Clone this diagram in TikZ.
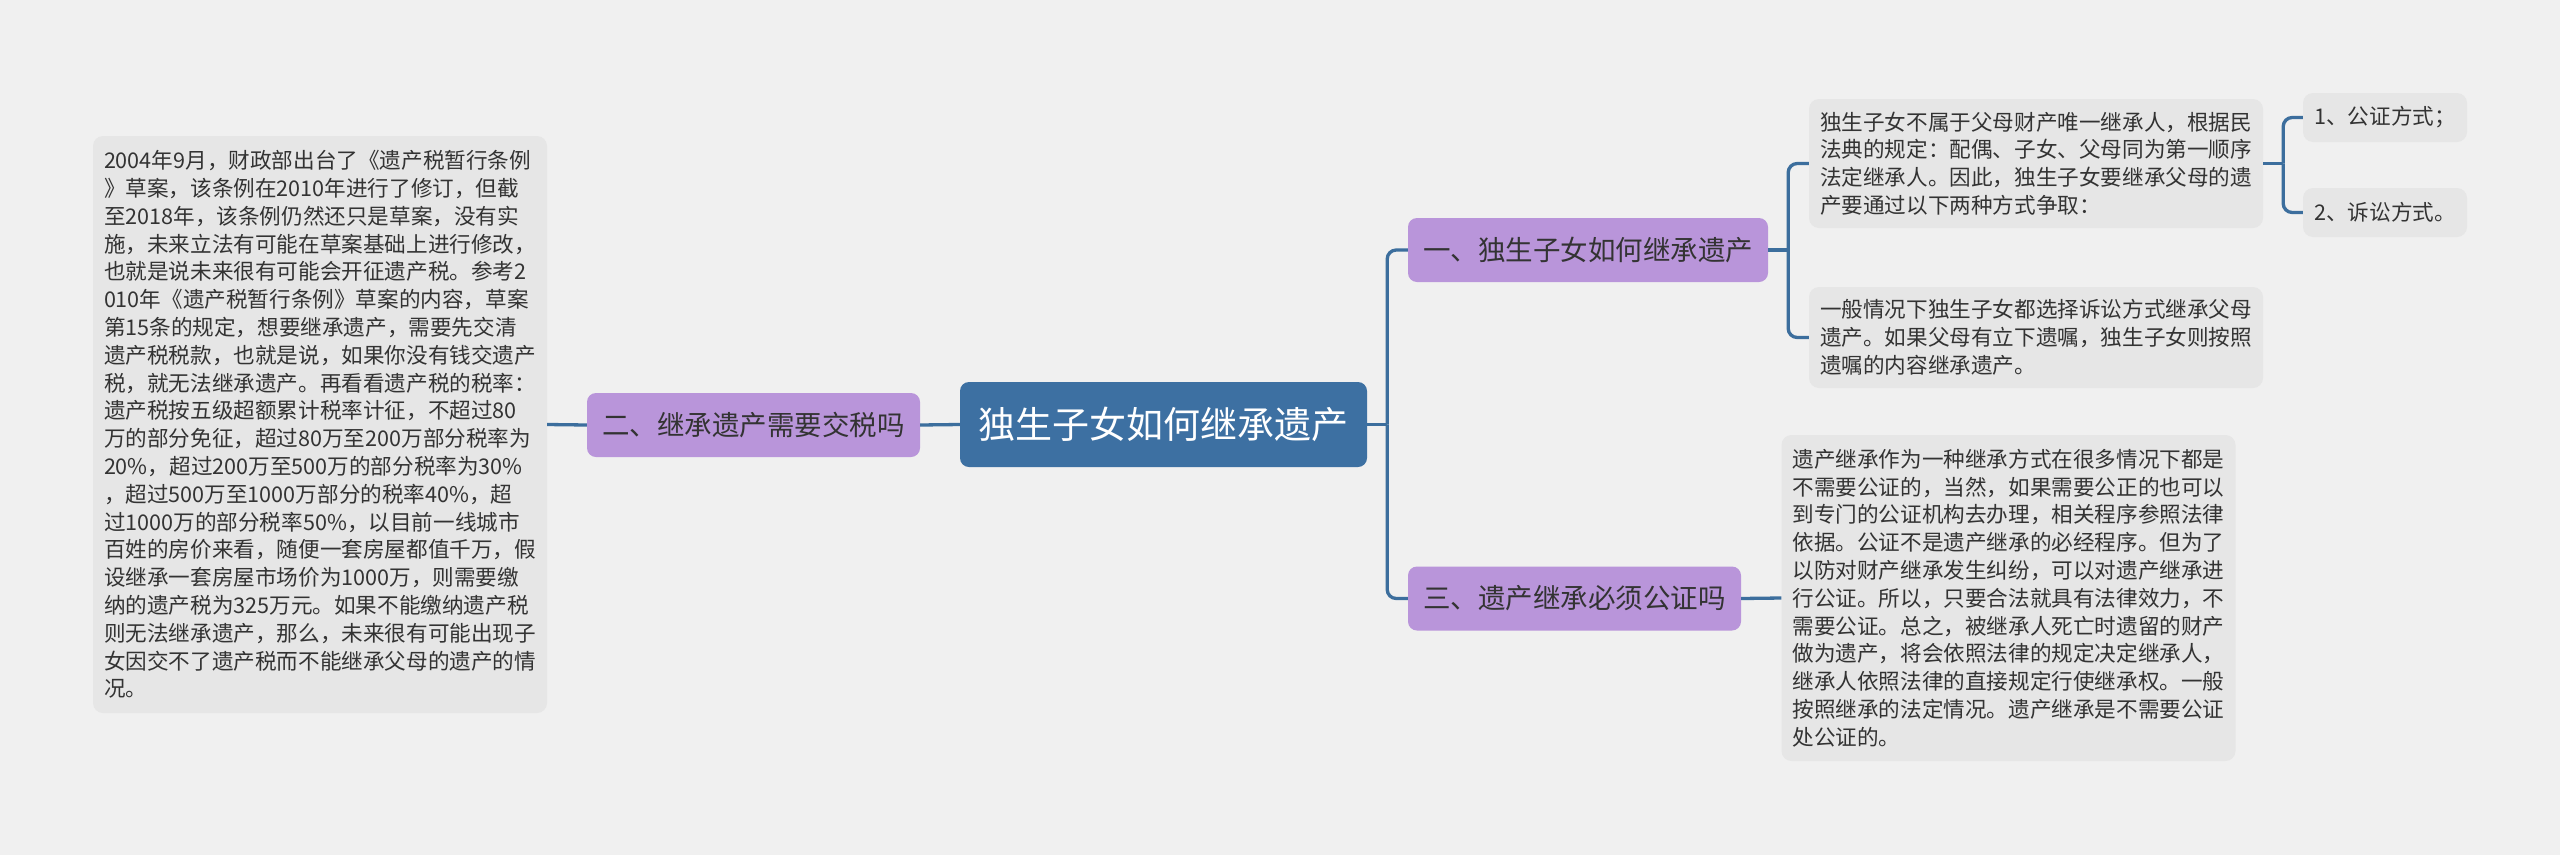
\documentclass[tikz,border=0pt]{standalone}
\usepackage{fontspec}
\setmainfont{Noto Sans CJK SC}

\definecolor{pagebg}{HTML}{F0F0F0}
\definecolor{notegray}{HTML}{E6E6E6}
\definecolor{topicpurple}{HTML}{B995DA}
\definecolor{rootblue}{HTML}{3D70A2}
\definecolor{linkblue}{HTML}{3C6E9D}
\definecolor{textgray}{HTML}{333333}

\tikzset{
  conn/.style={draw=linkblue, line width=3.3pt, rounded corners=9pt},
  rootbox/.style={fill=rootblue, text=white, rounded corners=9pt,
    minimum width=407pt, minimum height=85pt, inner sep=0pt,
    font=\fontsize{37pt}{44pt}\selectfont},
  topicbox/.style={fill=topicpurple, text=textgray, rounded corners=9pt,
    minimum height=64pt, inner sep=0pt,
    font=\fontsize{27.5pt}{33pt}\selectfont},
  notebox/.style={fill=notegray, text=textgray, rounded corners=10pt,
    align=left, inner xsep=11pt, inner ysep=0pt,
    font=\fontsize{21.6pt}{27.8pt}\selectfont},
}

\begin{document}
\begin{tikzpicture}[x=1pt, y=-1pt]
        \useasboundingbox (0,0) rectangle (2560,855);
        \fill[pagebg] (0,0) rectangle (2560,855);

        % centre and the three topics
        \node[rootbox] (root) at (1163.5,424.5) {独生子女如何继承遗产};
        \node[topicbox, minimum width=333pt] (tax) at (753.5,425) {二、继承遗产需要交税吗};
        \node[topicbox, minimum width=360pt] (how) at (1588,250) {一、独生子女如何继承遗产};
        \node[topicbox, minimum width=333pt] (notary) at (1574.5,598.5) {三、遗产继承必须公证吗};

        % notes
        \node[notebox, minimum width=454pt, minimum height=577pt] (taxnote) at (320,424.5) {%
            2004年9月，财政部出台了《遗产税暂行条例\\
            》草案，该条例在2010年进行了修订，但截\\
            至2018年，该条例仍然还只是草案，没有实\\
            施，未来立法有可能在草案基础上进行修改，\\
            也就是说未来很有可能会开征遗产税。参考2\\
            010年《遗产税暂行条例》草案的内容，草案\\
            第15条的规定，想要继承遗产，需要先交清\\
            遗产税税款，也就是说，如果你没有钱交遗产\\
            税，就无法继承遗产。再看看遗产税的税率：\\
            遗产税按五级超额累计税率计征，不超过80\\
            万的部分免征，超过80万至200万部分税率为\\
            20\%，超过200万至500万的部分税率为30\%\\
            ，超过500万至1000万部分的税率40\%，超\\
            过1000万的部分税率50\%，以目前一线城市\\
            百姓的房价来看，随便一套房屋都值千万，假\\
            设继承一套房屋市场价为1000万，则需要缴\\
            纳的遗产税为325万元。如果不能缴纳遗产税\\
            则无法继承遗产，那么，未来很有可能出现子\\
            女因交不了遗产税而不能继承父母的遗产的情\\
            况。};
        \node[notebox, minimum width=454pt, minimum height=129pt] (hownote) at (2036,163.5) {%
            独生子女不属于父母财产唯一继承人，根据民\\
            法典的规定：配偶、子女、父母同为第一顺序\\
            法定继承人。因此，独生子女要继承父母的遗\\
            产要通过以下两种方式争取：};
        \node[notebox, minimum width=454pt, minimum height=101pt] (suit) at (2036,337.5) {%
            一般情况下独生子女都选择诉讼方式继承父母\\
            遗产。如果父母有立下遗嘱，独生子女则按照\\
            遗嘱的内容继承遗产。};
        \node[notebox, minimum width=164pt, minimum height=49pt] (wayone) at (2385,117.5) {1、公证方式；};
        \node[notebox, minimum width=164pt, minimum height=49pt] (waytwo) at (2385,212.5) {2、诉讼方式。};
        \node[notebox, minimum width=453pt, minimum height=326pt] (notarynote) at (2008.5,598) {%
            遗产继承作为一种继承方式在很多情况下都是\\
            不需要公证的，当然，如果需要公正的也可以\\
            到专门的公证机构去办理，相关程序参照法律\\
            依据。公证不是遗产继承的必经程序。但为了\\
            以防对财产继承发生纠纷，可以对遗产继承进\\
            行公证。所以，只要合法就具有法律效力，不\\
            需要公证。总之，被继承人死亡时遗留的财产\\
            做为遗产，将会依照法律的规定决定继承人，\\
            继承人依照法律的直接规定行使继承权。一般\\
            按照继承的法定情况。遗产继承是不需要公证\\
            处公证的。};

        % connectors
        \draw[conn] (taxnote.east) -- (tax.west);
        \draw[conn] (tax.east) -- (root.west);
        \draw[conn] (root.east) -- ++(20,0) coordinate (rootfork);
        \draw[conn] (rootfork) |- (how.west);
        \draw[conn] (rootfork) |- (notary.west);
        \draw[conn] (how.east) -- ++(20,0) coordinate (howfork);
        \draw[conn] (howfork) |- (hownote.west);
        \draw[conn] (howfork) |- (suit.west);
        \draw[conn] (hownote.east) -- ++(20,0) coordinate (wayfork);
        \draw[conn] (wayfork) |- (wayone.west);
        \draw[conn] (wayfork) |- (waytwo.west);
        \draw[conn] (notary.east) -- (notarynote.west);
\end{tikzpicture}
\end{document}
